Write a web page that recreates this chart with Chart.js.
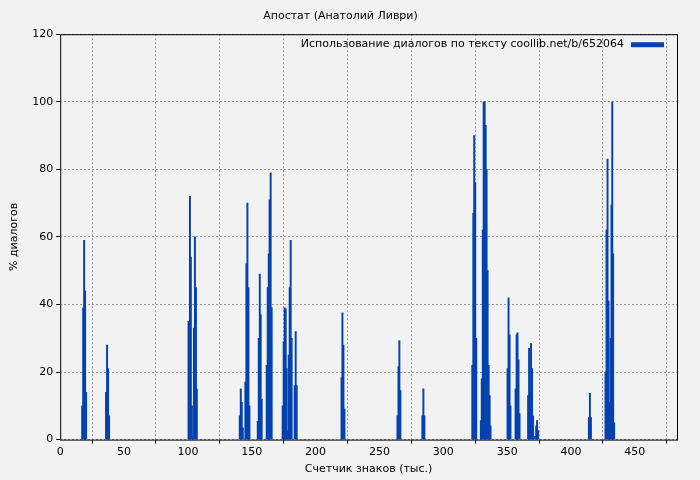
<!DOCTYPE html>
<html>
<head>
<meta charset="utf-8">
<script src="https://cdn.jsdelivr.net/npm/chart.js@4"></script>
<style>
  body { margin: 0; background: #f2f2f2; }
  #wrap { width: 700px; height: 480px; }
</style>
</head>
<body>
<div id="wrap"><canvas id="chart"></canvas></div>
<script>
// позиции (тыс. знаков) и % диалогов
const positions = [
  17.2, 18, 18.75, 19.5, 20.3,
  35.9, 36.7, 37.5, 38.3,
  100.5, 101.6, 102.3, 103.1, 103.9, 104.7, 105.5, 106.3, 107,
  140.6, 141.4, 142.2, 143,
  145, 145.8, 146.6, 147.4, 148.2,
  154.7, 155.5, 156.3, 157, 157.8,
  161.7, 162.5, 163.3, 164, 164.8, 165.6,
  174.2, 175, 175.8, 176.6, 177.3, 178, 178.9, 179.7, 180.5, 181.25, 183.6, 184.4, 185.2,
  220.3, 221, 221.8, 222.6,
  264.1, 264.9, 265.6, 266.4,
  283.6, 284.4, 285.2,
  322.7, 323.5, 324.2, 325, 325.8,
  329.4, 330.1, 330.9, 331.6, 332.4, 333.2, 333.9, 334.7, 335.5, 336.3, 337,
  350.3, 351.1, 351.9, 352.6,
  356.6, 357.4, 358.1, 358.9, 359.7,
  366.4, 367.2, 368, 368.7, 369.5, 370.3, 371.9, 372.7, 373.4, 374.2,
  414, 414.8, 415.6,
  427, 427.8, 428.6, 429.4, 430.2, 431, 431.7, 432.3, 433, 433.8
];
const dialogShare = [
  10, 39, 59, 44, 14,
  14, 28, 21, 7,
  35, 72, 54, 10, 1, 33, 60, 45, 15,
  7, 15, 11, 3.5,
  17, 52, 70, 45, 10,
  5.4, 30, 49, 37, 12,
  22, 45, 55, 71, 79, 39,
  10, 29, 39, 38.7, 21, 2.5, 25, 45, 59, 30, 16, 32, 16,
  18.3, 37.5, 28, 9,
  7, 21.6, 29.3, 14.5,
  7, 15, 7,
  22, 67, 90, 76, 30,
  5.6, 18, 62, 100, 100, 93, 80, 50, 22, 13, 4,
  21, 42, 31, 10,
  15, 31, 31.6, 23.6, 7.7,
  13, 27, 14, 28.4, 21, 7, 1, 4, 5.6, 2.7,
  6.5, 13.7, 6.5,
  20, 62, 83, 41, 11, 30, 69.5, 100, 55, 5
];
const xTicks = [0, 50, 100, 150, 200, 250, 300, 350, 400, 450];

const points = positions.map((x, i) => ({ x: x, y: dialogShare[i] }));
const font = { family: 'DejaVu Sans', size: 11, weight: 'normal' };

const framePlugin = {
  id: 'frame',
  afterDraw(chart) {
    const { ctx, chartArea: a } = chart;
    ctx.save();
    ctx.strokeStyle = '#000';
    ctx.lineWidth = 1;
    ctx.strokeRect(a.left + 0.5, a.top + 0.5, a.right - a.left, a.bottom - a.top);
    // легенда внутри области графика
    const label = chart.data.datasets[0].label;
    ctx.font = '11px "DejaVu Sans"';
    ctx.fillStyle = '#000';
    ctx.textBaseline = 'middle';
    ctx.textAlign = 'right';
    ctx.fillText(label, a.right - 53, a.top + 10);
    ctx.fillStyle = '#0443ae';
    ctx.fillRect(a.right - 46, a.top + 8, 33, 5);
    ctx.restore();
  }
};

new Chart(document.getElementById('chart'), {
  type: 'bar',
  data: {
    datasets: [{
      label: 'Использование диалогов по тексту coollib.net/b/652064',
      data: points,
      backgroundColor: '#0443ae',
      borderWidth: 0,
      barThickness: 1.3,
      grouped: false
    }]
  },
  options: {
    responsive: true,
    maintainAspectRatio: false,
    animation: false,
    layout: { padding: { left: 4, right: 23, top: 0, bottom: 0 } },
    plugins: {
      legend: { display: false },
      tooltip: { enabled: false },
      title: {
        display: true,
        text: 'Апостат (Анатолий Ливри)',
        color: '#000',
        font: font,
        padding: { top: 10, bottom: 11 }
      }
    },
    scales: {
      x: {
        type: 'linear',
        min: 0,
        max: 483,
        offset: false,
        afterBuildTicks: s => { s.ticks = xTicks.map(v => ({ value: v })); },
        ticks: { color: '#000', font: font, maxRotation: 0, padding: 2 },
        grid: { color: '#999', tickColor: '#000', tickLength: 4, drawTicks: true },
        border: { display: false, dash: [2, 2] },
        title: { display: true, text: 'Счетчик знаков (тыс.)', color: '#000', font: font, padding: { top: 2 } }
      },
      y: {
        min: 0,
        max: 120,
        ticks: { stepSize: 20, color: '#000', font: font, padding: 3 },
        grid: { color: '#999', tickColor: '#000', tickLength: 4 },
        border: { display: false, dash: [2, 2] },
        title: { display: true, text: '% диалогов', color: '#000', font: font, padding: { bottom: 8 } }
      }
    }
  },
  plugins: [framePlugin]
});
</script>
</body>
</html>
